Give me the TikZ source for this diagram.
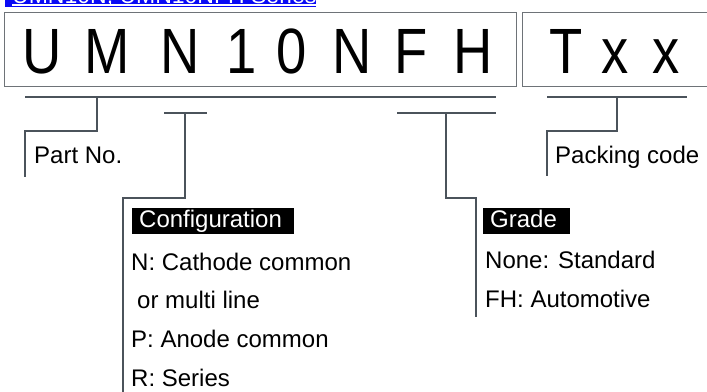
\documentclass[tikz,border=0pt]{standalone}
\usepackage{fontspec}
\setmainfont{Liberation Sans}
\definecolor{linecol}{HTML}{4B535B}
\definecolor{boxcol}{HTML}{6E7378}
\definecolor{linkblue}{HTML}{0A0AF5}
\begin{document}
\begin{tikzpicture}[x=1pt,y=-1pt,
  big/.style={font=\fontsize{64}{64}\selectfont, inner sep=0pt, anchor=base},
  lbl/.style={font=\fontsize{24}{28}\selectfont, inner sep=0pt, anchor=base west},
  tag/.style={font=\fontsize{24}{28}\selectfont, fill=black, text=white, anchor=north west,
              inner xsep=7pt, inner ysep=2pt, text height=17pt, text depth=5pt, align=left},
  conn/.style={draw=linecol, line width=2.3pt, line join=miter},
  frame/.style={draw=boxcol, line width=1pt}]
\useasboundingbox (0,0) rectangle (707,391);
\newcommand{\nrw}[1]{\scalebox{0.85}[1]{#1}}
\begin{scope}
\clip (0,0) rectangle (707,391);
% link strip
\fill[linkblue] (5,-30) rectangle (316,7);
\node[font=\fontsize{23}{27}\selectfont, text=white, inner sep=0pt, anchor=base west] (link) at (12,3) {UMN10N, UMN10NFH Series};
\draw[white, line width=1.3pt] (link.base west) ++(0,2) -- ([yshift=-2pt]link.base east);
% frames
\draw[frame] (4,12) rectangle (516,86);
\draw[frame] (522,12) rectangle (716,86);
% big letters
\node[big] (cU) at (42,73) {\nrw{U}};
\node[big] (cM) at (107,73) {\nrw{M}};
\node[big] (cN) at (180,73) {\nrw{N}};
\node[big] (c1) at (242,73) {\nrw{1}};
\node[big] (c0) at (292,73) {\nrw{0}};
\node[big] (cN2) at (352,73) {\nrw{N}};
\node[big] (cF) at (411,73) {\nrw{F}};
\node[big] (cH) at (473,73) {\nrw{H}};
\node[big] (cT) at (566,73) {\nrw{T}};
\node[big] (cx1) at (615,73) {\nrw{x}};
\node[big] (cx2) at (666,73) {\nrw{x}};
% bracket coordinates
\coordinate (a1) at (25,97);  \coordinate (a2) at (496,97);
\coordinate (p1) at (97,97);  \coordinate (p2) at (97,131);
\coordinate (p3) at (25,131); \coordinate (p4) at (25,177);
\coordinate (b1) at (164,113); \coordinate (b2) at (207,113);
\coordinate (q1) at (185,113); \coordinate (q2) at (185,198);
\coordinate (q3) at (123,198); \coordinate (q4) at (123,395);
\coordinate (g1) at (397,113); \coordinate (g2) at (496,113);
\coordinate (r1) at (446,113); \coordinate (r2) at (446,198);
\coordinate (r3) at (476,198); \coordinate (r4) at (476,317);
\coordinate (k1) at (547,97); \coordinate (k2) at (687,97);
\coordinate (s1) at (617,97); \coordinate (s2) at (617,131);
\coordinate (s3) at (547,131); \coordinate (s4) at (547,176);
\draw[conn] (a1) -- (a2);
\draw[conn] (p1) -- (p2) -- (p3) -- (p4);
\draw[conn] (b1) -- (b2);
\draw[conn] (q1) -- (q2) -- (q3) -- (q4);
\draw[conn] (g1) -- (g2);
\draw[conn] (r1) -- (r2) -- (r3) -- (r4);
\draw[conn] (k1) -- (k2);
\draw[conn] (s1) -- (s2) -- (s3) -- (s4);
\end{scope}
% labels
\node[lbl] (partno) at (34,163) {Part No.};
\node[lbl] (pack) at (555,163) {Packing code};
\node[tag, text width=148pt] (config) at (132,208) {Configuration};
\node[lbl] (n1) at (131,270) {N: Cathode common};
\node[lbl] (n2) at (137,308) {or multi line};
\node[lbl] (n3) at (131,347) {P: Anode common};
\node[lbl] (n4) at (131,386) {R: Series};
\node[tag, text width=73pt] (grade) at (483,208) {Grade};
\node[lbl] (g1t) at (485,268) {None: Standard};
\node[lbl] (g2t) at (485,307) {FH: Automotive};
\end{tikzpicture}
\end{document}
